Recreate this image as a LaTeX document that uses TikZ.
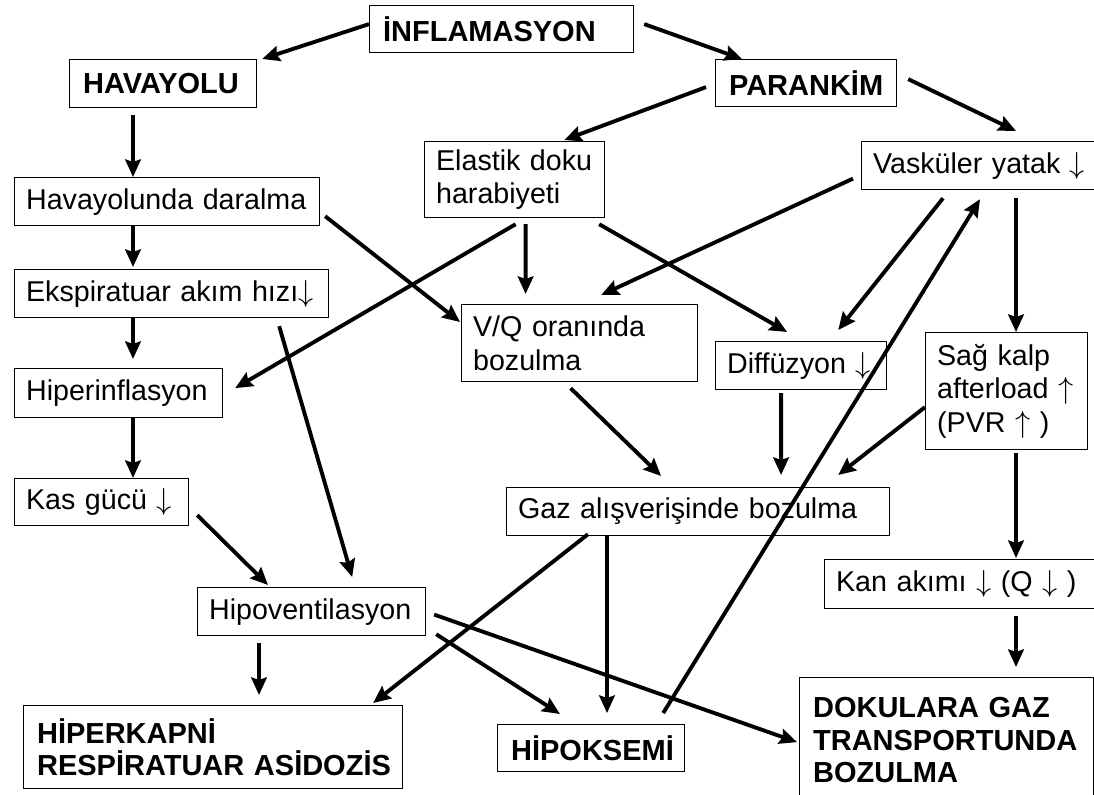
\documentclass[tikz,border=0pt]{standalone}
\usepackage{fontspec}
\setmainfont{Liberation Sans}
\usetikzlibrary{calc,arrows.meta}

\begin{document}
\begin{tikzpicture}[x=0.02cm, y=-0.02cm,
  box/.style={draw, line width=0.7pt, anchor=north west, align=left, inner xsep=0.2cm, inner ysep=0pt, font=\fontsize{16.3}{19}\selectfont},
  bbox/.style={box, font=\fontsize{16.5}{18.5}\selectfont\bfseries},
  arr/.style={line width=2.2pt, -{Stealth[length=0.35cm, width=0.31cm, inset=0.05cm]}}]
\useasboundingbox (0,0) rectangle (1094,794);
\clip (0,0) rectangle (1094,794);
\fill [white] (0,0) rectangle (1094,794);
\coordinate (lcol) at (133,0);
\coordinate (rcol) at (1016,0);

\node (infl) at (369,5) [bbox, text width=4.88cm, minimum height=0.94cm] {\hspace{0.07cm}İNFLAMASYON};
\node (hava) at (69,59) [bbox, text width=3.34cm, minimum height=0.96cm] {\hspace{0.07cm}HAVAYOLU};
\node (paren) at (715,59) [bbox, text width=3.22cm, minimum height=0.94cm] {\hspace{0.07cm}PARANKİM};
\node (elas) at (424,141) [box, text width=3.20cm, minimum height=1.52cm] {\hspace{0.03cm}Elastik doku\\\hspace*{0.03cm}harabiyeti};
\node (vask) at (861,141) [box, text width=4.58cm, minimum height=0.96cm] {\hspace{0.03cm}Vasküler yatak $\downarrow$};
\node (daral) at (14,177) [box, text width=5.70cm, minimum height=0.96cm] {\hspace{0.03cm}Havayolunda daralma};
\node (eksp) at (14,269) [box, text width=5.88cm, minimum height=0.96cm] {\hspace{0.03cm}Ekspiratuar akım hızı$\downarrow$};
\node (vq) at (461,304) [box, text width=4.32cm, minimum height=1.54cm] {\hspace{0.03cm}V/Q oranında\\\hspace*{0.03cm}bozulma};
\node (diff) at (715,341) [box, text width=3.02cm, minimum height=0.96cm] {\hspace{0.03cm}Diffüzyon $\downarrow$};
\node (sag) at (925,332) [box, text width=2.84cm, minimum height=2.34cm] {\hspace{0.03cm}Sağ kalp\\\hspace*{0.03cm}afterload $\uparrow$\\\hspace*{0.03cm}(PVR $\uparrow$ )};
\node (hiper) at (14,368) [box, text width=3.76cm, minimum height=0.98cm] {\hspace{0.03cm}Hiperinflasyon};
\node (kas) at (14,478) [box, text width=3.08cm, minimum height=0.94cm] {\hspace{0.03cm}Kas gücü $\downarrow$};
\node (gaz) at (506,487) [box, text width=7.26cm, minimum height=0.96cm] {\hspace{0.03cm}Gaz alışverişinde bozulma};
\node (hipov) at (197,587) [box, text width=4.16cm, minimum height=0.96cm] {\hspace{0.03cm}Hipoventilasyon};
\node (kan) at (824,559) [box, text width=5.32cm, minimum height=0.98cm] {\hspace{0.03cm}Kan akımı $\downarrow$ (Q $\downarrow$ )};
\node (hkap) at (23,705) [bbox, text width=7.18cm, minimum height=1.66cm] {\hspace{0.07cm}HİPERKAPNİ\\\hspace*{0.07cm}RESPİRATUAR ASİDOZİS};
\node (hipok) at (497,724) [bbox, text width=3.34cm, minimum height=0.94cm] {\hspace{0.07cm}HİPOKSEMİ};
\node (doku) at (799,677) [bbox, text width=5.48cm, minimum height=2.50cm] {\hspace{0.07cm}DOKULARA GAZ\\\hspace*{0.07cm}TRANSPORTUNDA\\\hspace*{0.07cm}BOZULMA};

\draw [arr] ($(infl.west)+(0,-5)$) -- ($(hava.north east)+(5,0)$);
\draw [arr] ($(infl.east)+(10,-5)$) -- ($(paren.north west)+(27,0)$);
\draw [arr, shorten <=0.14cm] (hava.south -| lcol) -- (daral.north -| lcol);
\draw [arr, shorten >=0.04cm] (daral.south -| lcol) -- (eksp.north -| lcol);
\draw [arr, shorten >=0.18cm] (eksp.south -| lcol) -- (hiper.north -| lcol);
\draw [arr] (hiper.south -| lcol) -- (kas.north -| lcol);
\draw [arr] ($(daral.south east)+(5,-10)$) -- ($(vq.north west)+(-1,18)$);
\draw [arr] ($(elas.south)+(1,6)$) -- ($(hiper.east)+(12,-5)$);
\draw [arr] ($(elas.south)+(11,6)$) -- ($(vq.north)+(-54,-10)$);
\draw [arr] ($(elas.south east)+(-6,6)$) -- ($(diff.north)+(-14,-9)$);
\draw [arr] ($(eksp.south east)+(-50,8)$) -- ($(hipov.north east)+(-74,-10)$);
\draw [arr] ($(paren.west)+(-9,4)$) -- ($(elas.north east)+(-41,-1)$);
\draw [arr] ($(paren.east)+(11,-4)$) -- ($(vask.north -| rcol)+(0,-10)$);
\draw [arr] ($(vask.west)+(-8,13)$) -- ($(vq.north east)+(-97,-9)$);
\draw [arr] ($(vask.south west)+(82,8)$) -- ($(diff.north east)+(-49,-11)$);
\draw [arr, shorten <=0.16cm] (vask.south -| rcol) -- (sag.north -| rcol);
\draw [arr] ($(hipok.north east)+(-22,-11)$) -- ($(vask.south west)+(119,9)$);
\draw [arr] ($(vq.south)+(-9,6)$) -- ($(gaz.north)+(-37,-11)$);
\draw [arr] ($(diff.south)+(-20,3)$) -- ($(gaz.north)+(83,-12)$);
\draw [arr] ($(sag.west)+(0,16)$) -- ($(gaz.north east)+(-52,-12)$);
\draw [arr, shorten <=0.06cm, shorten >=0.02cm] (sag.south -| rcol) -- (kan.north -| rcol);
\draw [arr, shorten <=0.14cm, shorten >=0.2cm] (kan.south -| rcol) -- (doku.north -| rcol);
\draw [arr] ($(gaz.south west)+(82,-2)$) -- ($(hkap.north east)+(-30,-2)$);
\draw [arr, shorten >=0.22cm] ($(gaz.south west)+(101,0)$) -- ($(hipok.north west)+(110,0)$);
\draw [arr] ($(kas.east)+(8,13)$) -- ($(hipov.north west)+(71,-2)$);
\draw [arr, shorten <=0.14cm, shorten >=0.2cm] ($(hipov.south west)+(62,0)$) -- ($(hkap.north west)+(236,0)$);
\draw [arr] ($(hipov.south east)+(10,-2)$) -- ($(hipok.north west)+(63,-10)$);
\draw [arr] ($(hipov.east)+(8,3)$) -- ($(doku.west)+(-2,2)$);
\end{tikzpicture}
\end{document}
